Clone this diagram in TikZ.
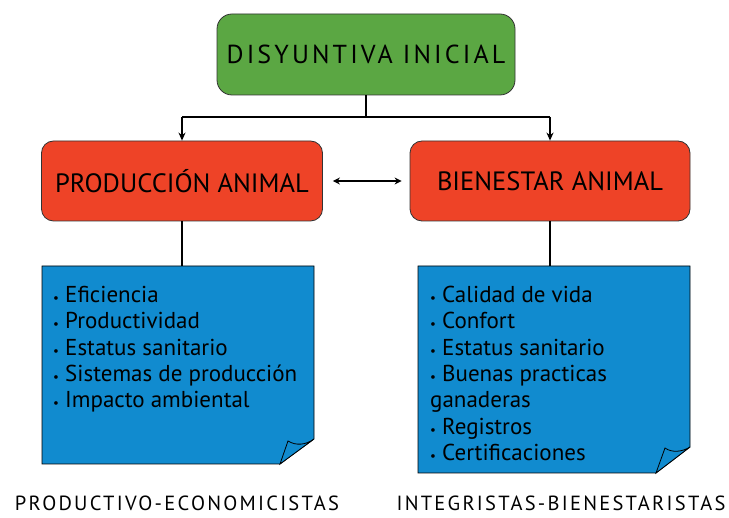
\documentclass[tikz,border=0pt]{standalone}
\usepackage{fontspec}
\setmainfont{PT Sans}
\usetikzlibrary{arrows.meta}
\definecolor{topgreen}{HTML}{5BA743}
\definecolor{boxred}{HTML}{EE4327}
\definecolor{noteblue}{HTML}{118BCF}
\tikzset{
  conn/.style={line width=1.6pt},
  arr/.style={line width=1.6pt,-{Stealth[length=8pt,width=7pt]}},
  redbox/.style={draw=black!80,line width=0.8pt,fill=boxred,rounded corners=12pt,minimum width=281pt,minimum height=80pt,font=\fontsize{26.5}{30}\selectfont,inner sep=0pt},
  note/.style={draw=black,line width=0.8pt,fill=noteblue},
  notetext/.style={anchor=north west,align=left,inner sep=0pt,font=\fontsize{23}{26.3}\selectfont},
  caption/.style={anchor=base,font=\fontsize{20.5}{22}\selectfont\addfontfeatures{LetterSpace=11},inner sep=0pt}
}
\newcommand{\bul}{{\fontsize{13}{13}\selectfont\textbullet}\ }
\begin{document}
\begin{tikzpicture}[x=1pt,y=-1pt]
\useasboundingbox (0,0) rectangle (729,518);
% top
\node[draw=black!80,line width=0.8pt,fill=topgreen,rounded corners=15pt,minimum width=298pt,minimum height=81pt,inner sep=0pt,font=\fontsize{26}{30}\selectfont\addfontfeatures{LetterSpace=12}] (top) at (366,54.5) {DISYUNTIVA INICIAL};
\node[redbox] (prod) at (182,181) {PRODUCCI\'ON ANIMAL};
\node[redbox,minimum width=280pt] (bien) at (550,181) {BIENESTAR ANIMAL};
% junction
\coordinate (j) at (366,117);
\coordinate (jl) at (prod.north |- j);
\coordinate (jr) at (bien.north |- j);
\draw[conn] (top.south) -- (j);
\draw[conn] (jl) -- (jr);
\draw[arr] (jl) -- (prod.north);
\draw[arr] (jr) -- (bien.north);
\draw[line width=1.5pt,{Stealth[length=7pt,width=7pt]}-{Stealth[length=7pt,width=7pt]}] ([xshift=10pt]prod.east) -- ([xshift=-8pt]bien.west);
% notes
\draw[note] (42,266) -- (314,266) -- (314,439) -- (280,464) -- (42,464) -- cycle;
\draw[note] (280,464) -- (288,441) .. controls (296,446) and (306,445) .. (314,439) -- cycle;
\coordinate (ln) at (prod.south |- 0,266);
\draw[note] (418,266) -- (690,266) -- (690,447) -- (656,473) -- (418,473) -- cycle;
\draw[note] (656,473) -- (665,448) .. controls (672,453) and (682,452) .. (690,447) -- cycle;
\coordinate (rn) at (bien.south |- 0,266);
\draw[conn] (prod.south) -- (ln);
\draw[conn] (bien.south) -- (rn);
\node[notetext] (ltext) at (53,286) {\bul Eficiencia\\ \bul Productividad\\ \bul Estatus sanitario\\ \bul Sistemas de producci\'on\\ \bul Impacto ambiental};
\node[notetext] (rtext) at (430,286) {\bul Calidad de vida\\ \bul Confort\\ \bul Estatus sanitario\\ \bul Buenas practicas\\ganaderas\\ \bul Registros\\ \bul Certificaciones};
% captions
\node[caption] (lcap) at (177,511) {PRODUCTIVO-ECONOMICISTAS};
\node[caption] (rcap) at (561,511) {INTEGRISTAS-BIENESTARISTAS};
\end{tikzpicture}
\end{document}
